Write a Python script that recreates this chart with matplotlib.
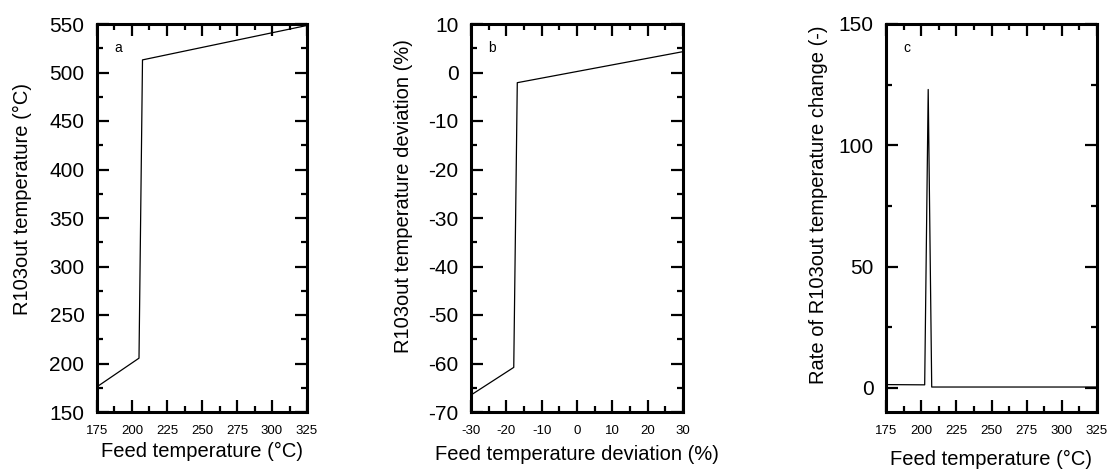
import matplotlib
matplotlib.use("Agg")
import matplotlib.pyplot as plt
from matplotlib.ticker import MultipleLocator

plt.rcParams['font.family'] = ['Liberation Sans', 'DejaVu Sans']
plt.rcParams['axes.unicode_minus'] = False

# Panel a: outlet vs feed temperature
feed_a = [175, 205, 207.5, 325]
out_a = [176, 205.5, 513, 548.5]

# Panel b: deviations (%)
feed_dev = [-30, -17.9, -16.9, 30]
out_dev = [-66.5, -60.8, -2.1, 4.3]

# Panel c: rate of change
feed_c = [175, 202.5, 205, 207.5, 325]
rate_c = [1.3, 1.2, 123, 0.3, 0.3]

fig = plt.figure(figsize=(11.12, 4.71), dpi=100)
W, H = 1112, 471

def make_ax(left_px, right_px, top_px=24, bottom_px=412):
    return fig.add_axes([left_px / W, (H - bottom_px) / H,
                         (right_px - left_px) / W, (bottom_px - top_px) / H])

def style(ax, xmaj, xmin, ymaj, ymin):
    for s in ax.spines.values():
        s.set_linewidth(2.2)
    ax.xaxis.set_major_locator(MultipleLocator(xmaj))
    ax.xaxis.set_minor_locator(MultipleLocator(xmin))
    ax.yaxis.set_major_locator(MultipleLocator(ymaj))
    ax.yaxis.set_minor_locator(MultipleLocator(ymin))
    ax.tick_params(which='both', direction='in', top=True, right=True, width=1.6)
    ax.tick_params(which='major', length=8.5)
    ax.tick_params(which='minor', length=4.5)
    ax.tick_params(axis='x', which='major', labelsize=9.5, pad=9)
    ax.tick_params(axis='y', which='major', labelsize=15, pad=9)

lw = 0.9
LFS = 14.5

ax1 = make_ax(97, 307)
ax1.plot(feed_a, out_a, color='black', lw=lw)
ax1.set_xlim(175, 325)
ax1.set_ylim(150, 550)
style(ax1, 25, 12.5, 50, 25)
ax1.set_xlabel('Feed temperature (°C)', fontsize=LFS)
ax1.set_ylabel('R103out temperature (°C)', fontsize=LFS)
ax1.xaxis.set_label_coords(0.5, -0.077)
ax1.yaxis.set_label_coords(-0.31, 0.55)
ax1.text(0.1, 0.938, 'a', transform=ax1.transAxes, fontsize=10, ha='center', va='center')

ax2 = make_ax(471, 683)
ax2.plot(feed_dev, out_dev, color='black', lw=lw)
ax2.set_xlim(-30, 30)
ax2.set_ylim(-70, 10)
style(ax2, 10, 5, 10, 5)
ax2.set_xlabel('Feed temperature deviation (%)', fontsize=LFS)
ax2.set_ylabel('R103out temperature deviation (%)', fontsize=LFS)
ax2.xaxis.set_label_coords(0.5, -0.085)
ax2.yaxis.set_label_coords(-0.275, 0.557)
ax2.text(0.1, 0.938, 'b', transform=ax2.transAxes, fontsize=10, ha='center', va='center')

ax3 = make_ax(886, 1097)
ax3.plot(feed_c, rate_c, color='black', lw=lw)
ax3.set_xlim(175, 325)
ax3.set_ylim(-10, 150)
style(ax3, 25, 12.5, 50, 25)
ax3.set_xlabel('Feed temperature (°C)', fontsize=LFS)
ax3.set_ylabel('Rate of R103out temperature change (-)', fontsize=LFS)
ax3.xaxis.set_label_coords(0.5, -0.098)
ax3.yaxis.set_label_coords(-0.275, 0.534)
ax3.text(0.1, 0.938, 'c', transform=ax3.transAxes, fontsize=10, ha='center', va='center')

fig.savefig('out.png', dpi=100)
